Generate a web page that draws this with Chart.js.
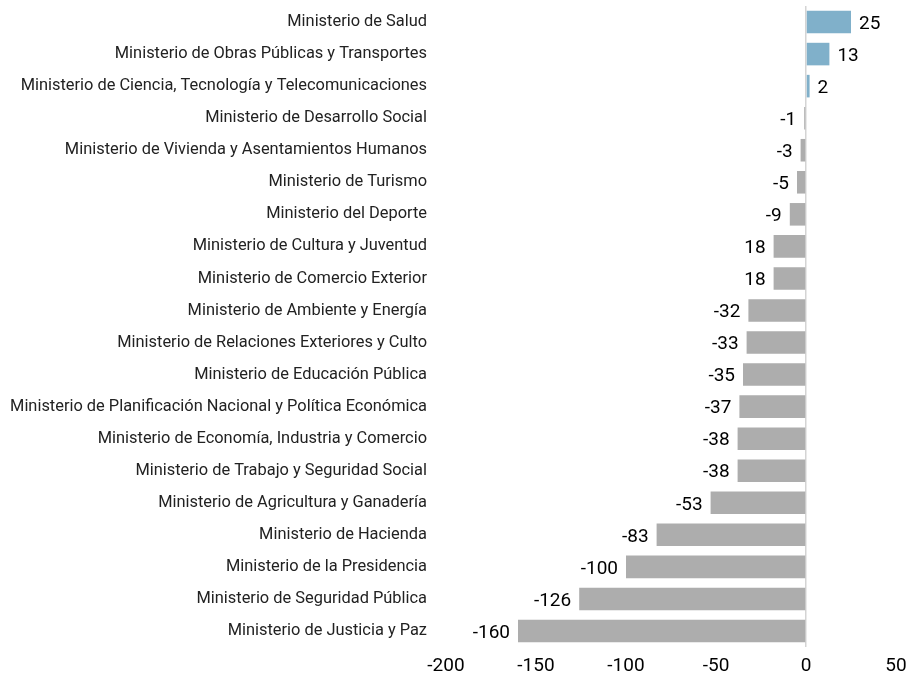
<!DOCTYPE html>
<html>
<head>
<meta charset="utf-8">
<script src="https://cdn.jsdelivr.net/npm/chart.js@4"></script>
<style>
  html, body { margin: 0; padding: 0; background: #fff; }
  #wrap { width: 907px; height: 677px; }
</style>
</head>
<body>
<div id="wrap"><canvas id="grafico"></canvas></div>
<script>
const ministerios = [
  "Ministerio de Salud",
  "Ministerio de Obras Públicas y Transportes",
  "Ministerio de Ciencia, Tecnología y Telecomunicaciones",
  "Ministerio de Desarrollo Social",
  "Ministerio de Vivienda y Asentamientos Humanos",
  "Ministerio de Turismo",
  "Ministerio del Deporte",
  "Ministerio de Cultura y Juventud",
  "Ministerio de Comercio Exterior",
  "Ministerio de Ambiente y Energía",
  "Ministerio de Relaciones Exteriores y Culto",
  "Ministerio de Educación Pública",
  "Ministerio de Planificación Nacional y Política Económica",
  "Ministerio de Economía, Industria y Comercio",
  "Ministerio de Trabajo y Seguridad Social",
  "Ministerio de Agricultura y Ganadería",
  "Ministerio de Hacienda",
  "Ministerio de la Presidencia",
  "Ministerio de Seguridad Pública",
  "Ministerio de Justicia y Paz"
];
const valores = [25, 13, 2, -1, -3, -5, -9, -18, -18, -32, -33, -35, -37, -38, -38, -53, -83, -100, -126, -160];
// etiquetas tal como aparecen en el gráfico original
const etiquetas = ["25", "13", "2", "-1", "-3", "-5", "-9", "18", "18", "-32", "-33", "-35", "-37", "-38", "-38", "-53", "-83", "-100", "-126", "-160"];
const ejeX = { min: -200, max: 50, paso: 50 };

const colores = valores.map(v => v >= 0 ? '#80b0ca' : '#adadad');
const fuente = 'Roboto, "Noto Sans", sans-serif';

// Etiquetas de valor al final de cada barra
const etiquetasPlugin = {
  id: 'etiquetasValor',
  afterDatasetsDraw(chart) {
    const ctx = chart.ctx;
    const meta = chart.getDatasetMeta(0);
    ctx.save();
    ctx.font = '19px ' + fuente;
    ctx.fillStyle = '#000';
    ctx.textBaseline = 'middle';
    meta.data.forEach((bar, i) => {
      if (valores[i] >= 0) {
        ctx.textAlign = 'left';
        ctx.fillText(etiquetas[i], bar.x + 8, bar.y + 2);
      } else {
        ctx.textAlign = 'right';
        ctx.fillText(etiquetas[i], bar.x - 8, bar.y + 2);
      }
    });
    ctx.restore();
  }
};

new Chart(document.getElementById('grafico'), {
  type: 'bar',
  data: {
    labels: ministerios,
    datasets: [{
      data: valores,
      backgroundColor: colores,
      borderWidth: 0,
      barPercentage: 0.88,
      categoryPercentage: 0.8
    }]
  },
  options: {
    indexAxis: 'y',
    responsive: true,
    maintainAspectRatio: false,
    animation: false,
    layout: { padding: { top: 6, right: 0, bottom: 0, left: 0 } },
    plugins: {
      legend: { display: false },
      tooltip: { enabled: false }
    },
    scales: {
      x: {
        min: ejeX.min,
        max: ejeX.max,
        ticks: {
          stepSize: ejeX.paso,
          color: '#000',
          padding: 8,
          font: { family: fuente, size: 19 }
        },
        grid: {
          drawTicks: false,
          lineWidth: 1.5,
          color: c => c.tick && c.tick.value === 0 ? '#d4d4d4' : 'rgba(0,0,0,0)'
        },
        border: { display: false },
        afterFit: s => { s.height = 30; s.paddingRight = 11; s.paddingLeft = 0; }
      },
      y: {
        ticks: {
          color: '#222',
          padding: 19,
          autoSkip: false,
          font: { family: fuente, size: 16.4 }
        },
        grid: { display: false, drawTicks: false },
        border: { display: false },
        afterFit: s => { s.width = 446; s.paddingTop = 0; s.paddingBottom = 0; }
      }
    }
  },
  plugins: [etiquetasPlugin]
});
</script>
</body>
</html>
